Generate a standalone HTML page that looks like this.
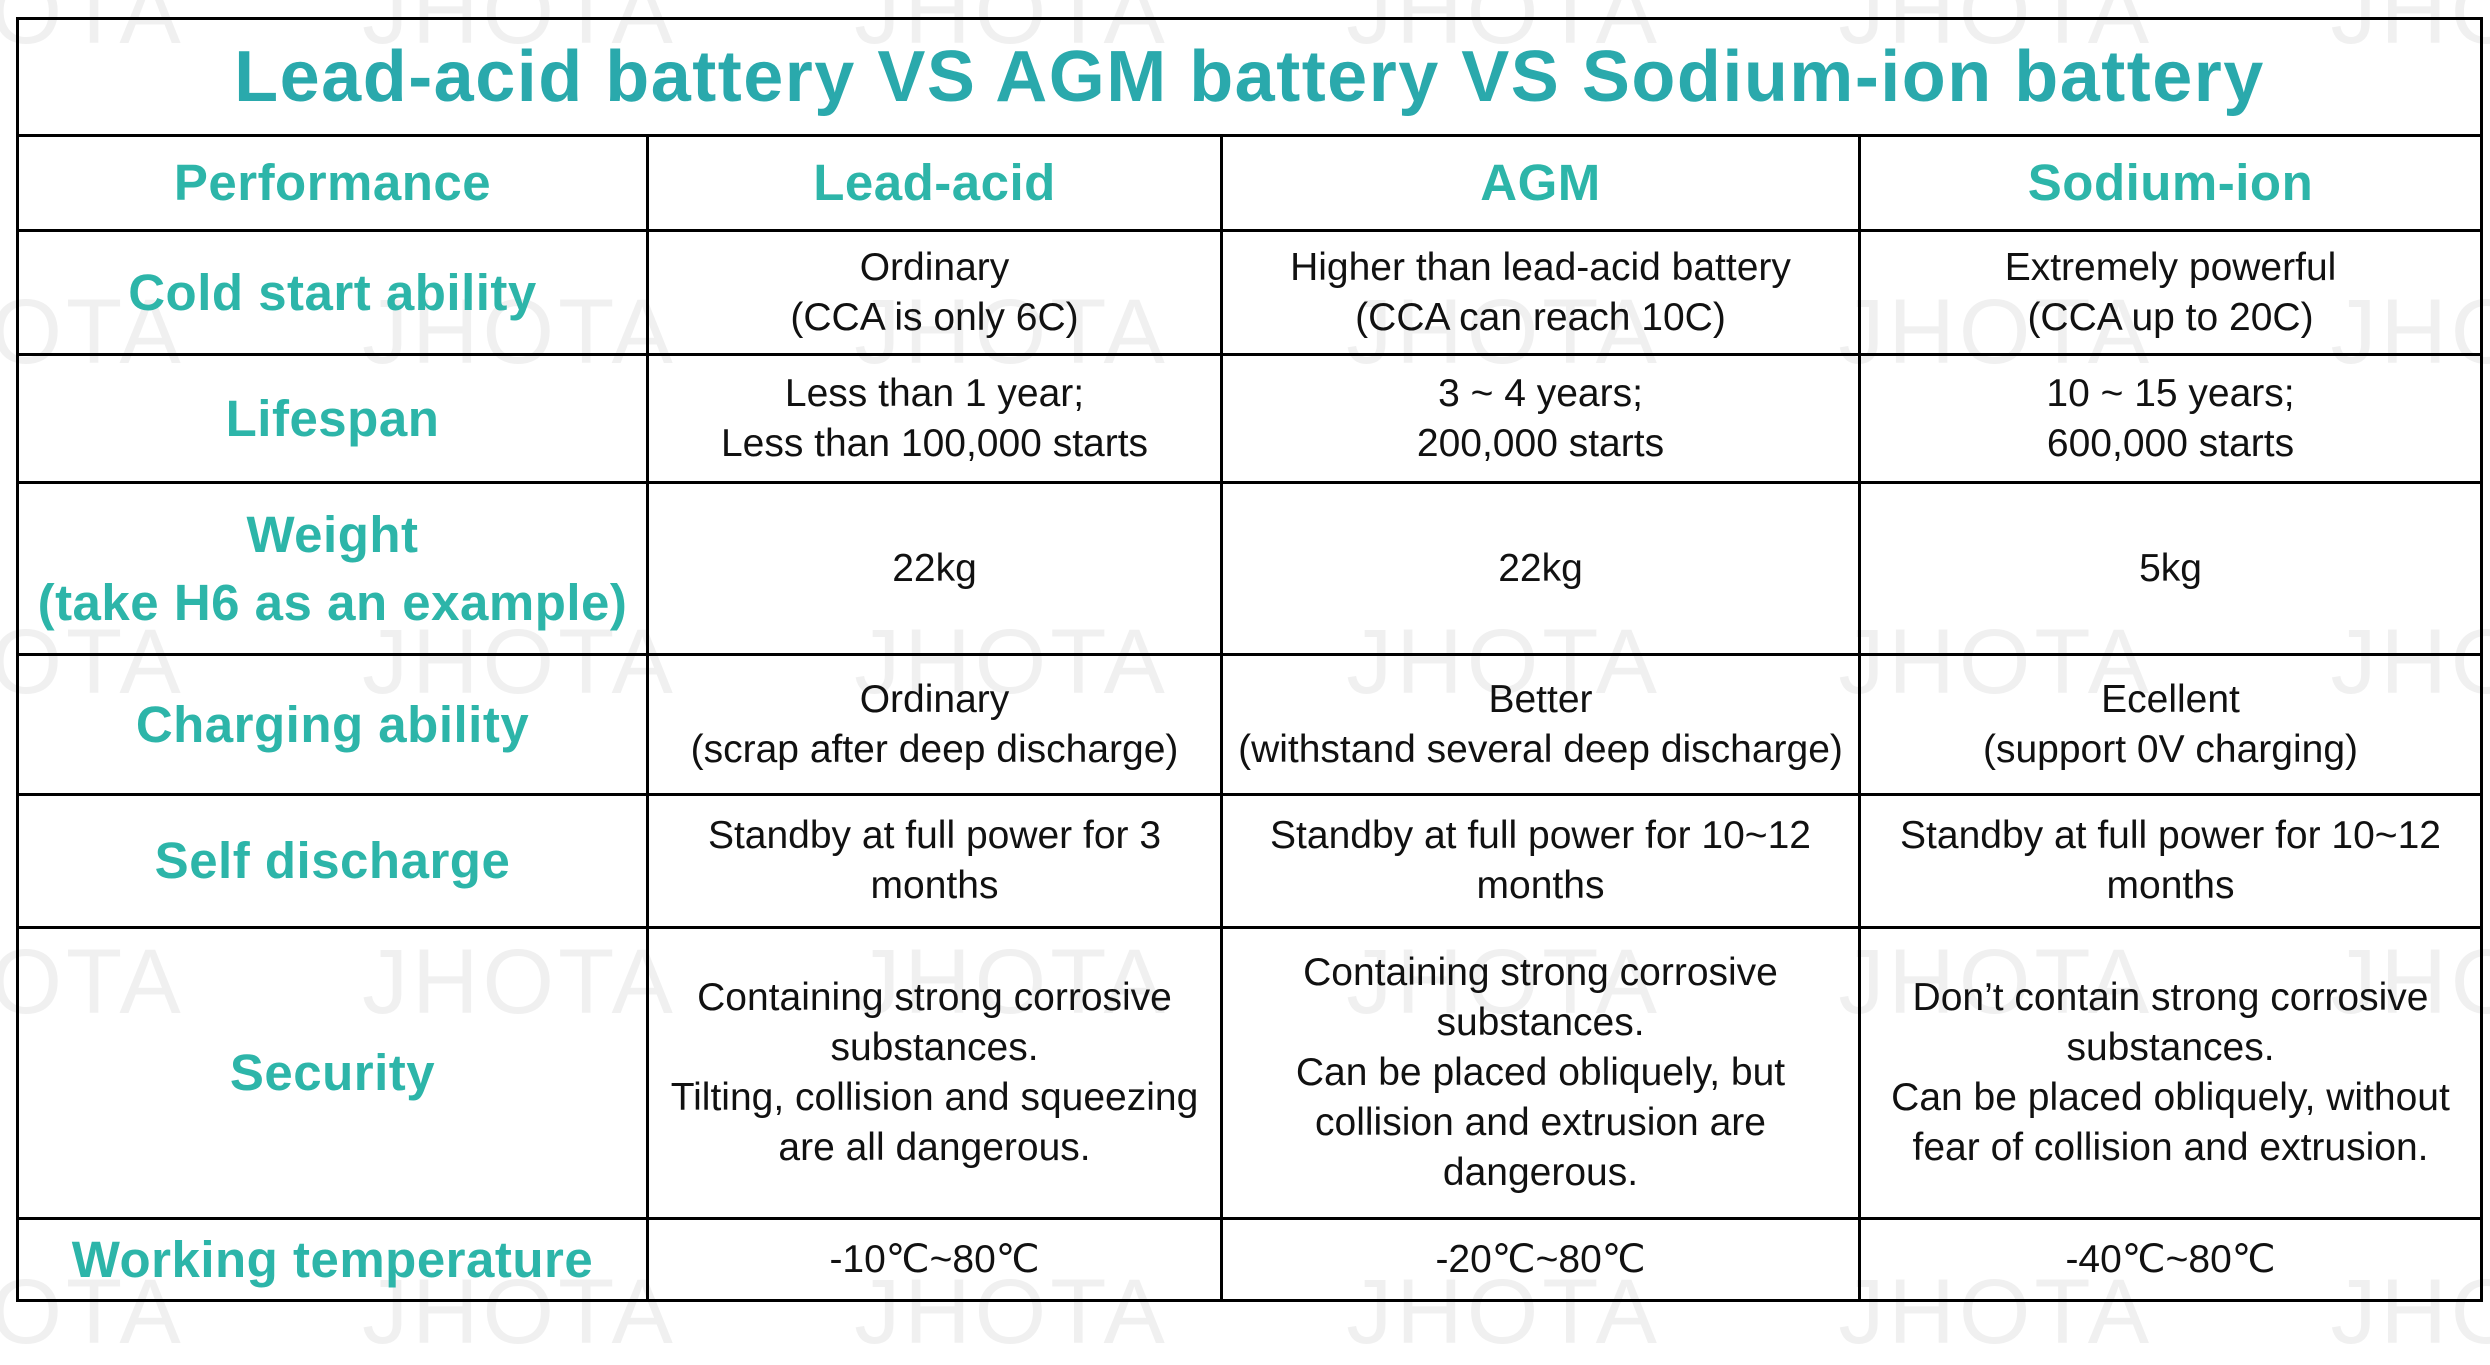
<!DOCTYPE html>
<html><head><meta charset="utf-8">
<style>
html,body{margin:0;padding:0;background:#fff;}
body{width:2490px;height:1316px;position:relative;overflow:hidden;font-family:"Liberation Sans",Arial,sans-serif;}
.wm{position:absolute;font-size:92px;color:#f0f0f0;letter-spacing:4px;font-weight:normal;white-space:nowrap;}
table{position:absolute;left:16px;top:17px;border-collapse:collapse;table-layout:fixed;width:2464px;}
td{border:3px solid #000;text-align:center;vertical-align:middle;padding:0;font-size:39px;line-height:50px;color:#111;background:transparent;white-space:nowrap;}
td.h{color:#2db5a9;font-weight:bold;font-size:51px;line-height:68px;letter-spacing:0.5px;}
td.t{color:#2aa9ac;font-weight:bold;font-size:72px;height:114px;letter-spacing:1.5px;}
</style></head><body>
<div class="wm" style="left:-130px;top:-40px">JHOTA&nbsp;&nbsp;&nbsp;&nbsp;&nbsp;&nbsp;JHOTA&nbsp;&nbsp;&nbsp;&nbsp;&nbsp;&nbsp;JHOTA&nbsp;&nbsp;&nbsp;&nbsp;&nbsp;&nbsp;JHOTA&nbsp;&nbsp;&nbsp;&nbsp;&nbsp;&nbsp;JHOTA&nbsp;&nbsp;&nbsp;&nbsp;&nbsp;&nbsp;JHOTA&nbsp;&nbsp;&nbsp;&nbsp;&nbsp;&nbsp;JHOTA</div>
<div class="wm" style="left:-130px;top:280px">JHOTA&nbsp;&nbsp;&nbsp;&nbsp;&nbsp;&nbsp;JHOTA&nbsp;&nbsp;&nbsp;&nbsp;&nbsp;&nbsp;JHOTA&nbsp;&nbsp;&nbsp;&nbsp;&nbsp;&nbsp;JHOTA&nbsp;&nbsp;&nbsp;&nbsp;&nbsp;&nbsp;JHOTA&nbsp;&nbsp;&nbsp;&nbsp;&nbsp;&nbsp;JHOTA&nbsp;&nbsp;&nbsp;&nbsp;&nbsp;&nbsp;JHOTA</div>
<div class="wm" style="left:-130px;top:610px">JHOTA&nbsp;&nbsp;&nbsp;&nbsp;&nbsp;&nbsp;JHOTA&nbsp;&nbsp;&nbsp;&nbsp;&nbsp;&nbsp;JHOTA&nbsp;&nbsp;&nbsp;&nbsp;&nbsp;&nbsp;JHOTA&nbsp;&nbsp;&nbsp;&nbsp;&nbsp;&nbsp;JHOTA&nbsp;&nbsp;&nbsp;&nbsp;&nbsp;&nbsp;JHOTA&nbsp;&nbsp;&nbsp;&nbsp;&nbsp;&nbsp;JHOTA</div>
<div class="wm" style="left:-130px;top:930px">JHOTA&nbsp;&nbsp;&nbsp;&nbsp;&nbsp;&nbsp;JHOTA&nbsp;&nbsp;&nbsp;&nbsp;&nbsp;&nbsp;JHOTA&nbsp;&nbsp;&nbsp;&nbsp;&nbsp;&nbsp;JHOTA&nbsp;&nbsp;&nbsp;&nbsp;&nbsp;&nbsp;JHOTA&nbsp;&nbsp;&nbsp;&nbsp;&nbsp;&nbsp;JHOTA&nbsp;&nbsp;&nbsp;&nbsp;&nbsp;&nbsp;JHOTA</div>
<div class="wm" style="left:-130px;top:1260px">JHOTA&nbsp;&nbsp;&nbsp;&nbsp;&nbsp;&nbsp;JHOTA&nbsp;&nbsp;&nbsp;&nbsp;&nbsp;&nbsp;JHOTA&nbsp;&nbsp;&nbsp;&nbsp;&nbsp;&nbsp;JHOTA&nbsp;&nbsp;&nbsp;&nbsp;&nbsp;&nbsp;JHOTA&nbsp;&nbsp;&nbsp;&nbsp;&nbsp;&nbsp;JHOTA&nbsp;&nbsp;&nbsp;&nbsp;&nbsp;&nbsp;JHOTA</div>
<table>
<colgroup><col style="width:630px"><col style="width:574px"><col style="width:638px"><col style="width:622px"></colgroup>
<tr><td class="t" colspan="4">Lead-acid battery VS AGM battery VS Sodium-ion battery</td></tr>
<tr style="height:95px"><td class="h">Performance</td><td class="h">Lead-acid</td><td class="h">AGM</td><td class="h">Sodium-ion</td></tr>
<tr style="height:124px"><td class="h">Cold start ability</td><td>Ordinary<br>(CCA is only 6C)</td><td>Higher than lead-acid battery<br>(CCA can reach 10C)</td><td>Extremely powerful<br>(CCA up to 20C)</td></tr>
<tr style="height:128px"><td class="h">Lifespan</td><td>Less than 1 year;<br>Less than 100,000 starts</td><td>3 ~ 4 years;<br>200,000 starts</td><td>10 ~ 15 years;<br>600,000 starts</td></tr>
<tr style="height:172px"><td class="h">Weight<br>(take H6 as an example)</td><td>22kg</td><td>22kg</td><td>5kg</td></tr>
<tr style="height:140px"><td class="h">Charging ability</td><td>Ordinary<br>(scrap after deep discharge)</td><td>Better<br>(withstand several deep discharge)</td><td>Ecellent<br>(support 0V charging)</td></tr>
<tr style="height:133px"><td class="h">Self discharge</td><td>Standby at full power for 3<br>months</td><td>Standby at full power for 10~12<br>months</td><td>Standby at full power for 10~12<br>months</td></tr>
<tr style="height:291px"><td class="h">Security</td><td>Containing strong corrosive<br>substances.<br>Tilting, collision and squeezing<br>are all dangerous.</td><td>Containing strong corrosive<br>substances.<br>Can be placed obliquely, but<br>collision and extrusion are<br>dangerous.</td><td>Don’t contain strong corrosive<br>substances.<br>Can be placed obliquely, without<br>fear of collision and extrusion.</td></tr>
<tr style="height:82px"><td class="h">Working temperature</td><td>-10℃~80℃</td><td>-20℃~80℃</td><td>-40℃~80℃</td></tr>
</table>
</body></html>
